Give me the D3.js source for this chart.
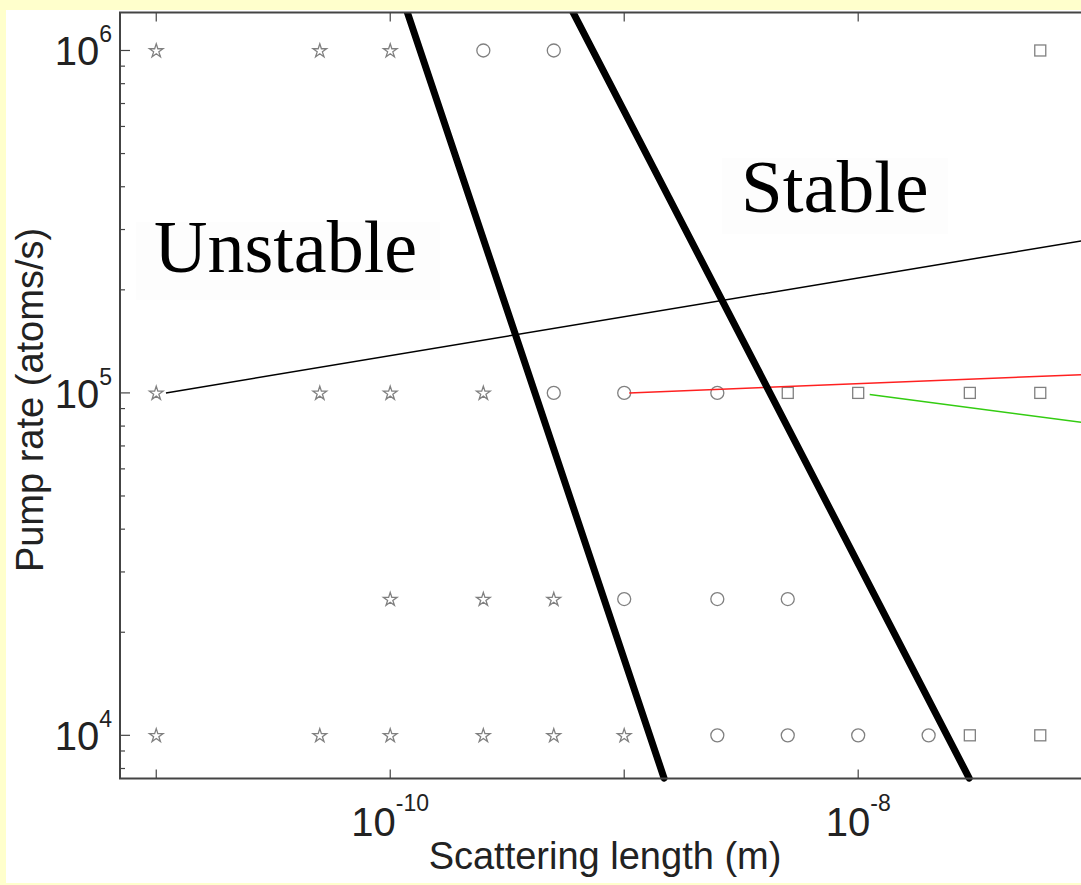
<!DOCTYPE html>
<html lang="en">
<head>
  <meta charset="UTF-8">
  <title>pump rate vs scattering length</title>
  <script src="https://d3js.org/d3.v7.min.js" charset="utf-8"></script>
  <style>
    body { margin: 0; background: #ffffcc; }
    svg { display: block; }
  </style>
</head>
<body>
</body>
<script>
  // marker positions [scattering length (m), pump rate (atoms/s)]
  var starPts = [[1e-11, 1e6], [5e-11, 1e6], [1e-10, 1e6],
    [1e-11, 1e5], [5e-11, 1e5], [1e-10, 1e5], [2.5e-10, 1e5],
    [1e-10, 2.5e4], [2.5e-10, 2.5e4], [5e-10, 2.5e4],
    [1e-11, 1e4], [5e-11, 1e4], [1e-10, 1e4], [2.5e-10, 1e4], [5e-10, 1e4], [1e-9, 1e4]]
  var circlePts = [[2.5e-10, 1e6], [5e-10, 1e6],
    [5e-10, 1e5], [1e-9, 1e5], [2.5e-9, 1e5],
    [1e-9, 2.5e4], [2.5e-9, 2.5e4], [5e-9, 2.5e4],
    [2.5e-9, 1e4], [5e-9, 1e4], [1e-8, 1e4], [2e-8, 1e4]]
  var squarePts = [[6e-8, 1e6],
    [5e-9, 1e5], [1e-8, 1e5], [3e-8, 1e5], [6e-8, 1e5],
    [3e-8, 1e4], [6e-8, 1e4]]

  // boundary lines (thick) and trajectories (thin)
  var boundary1 = [[1.1e-10, 1.5e6], [1.48e-9, 7.5e3]]
  var boundary2 = [[5.4e-10, 1.5e6], [2.98e-8, 7.5e3]]
  var blackLine = [[1.1e-11, 1e5], [9e-8, 2.78e5]]
  var redLine = [[1.05e-9, 1.0e5], [9e-8, 1.13e5]]
  var greenLine = [[1.12e-8, 0.99e5], [9e-8, 8.2e4]]

  var xTicks = [1e-11, 1e-10, 1e-9, 1e-8, 1e-7]
  var xLabelExps = [-10, -8]
  var yLabelExps = [4, 5, 6]

  var W = 1081, H = 885
  var pL = 120, pT = 12.5, pB = 778.5, pR = 1100

  var svg = d3.select('body').append('svg').attr('width', W).attr('height', H)

  svg.append('rect').attr('x', 6).attr('y', 10).attr('width', W).attr('height', 873).attr('fill', '#fff')

  var x = d3.scaleLog().domain([7.0e-12, 1.08e-7]).range([pL, pR])
  var y = d3.scaleLog().domain([7.48e3, 1.291e6]).range([pB, pT])

  svg.append('clipPath').attr('id', 'plotclip').append('rect')
    .attr('x', pL).attr('y', pT).attr('width', pR - pL).attr('height', pB - pT + 4)

  // faint text boxes
  svg.append('rect').attr('x', 136).attr('y', 222).attr('width', 304).attr('height', 78).attr('fill', '#fdfdfd')
  svg.append('rect').attr('x', 722).attr('y', 158).attr('width', 226).attr('height', 76).attr('fill', '#fdfdfd')

  // ticks
  var tickCol = '#444'
  var g = svg.append('g')
  xTicks.filter(function(d) { return x(d) < W }).forEach(function(d) {
    g.append('line').attr('x1', x(d)).attr('x2', x(d)).attr('y1', pB).attr('y2', pB - 9)
      .attr('stroke', tickCol).attr('stroke-width', 1.2)
    g.append('line').attr('x1', x(d)).attr('x2', x(d)).attr('y1', pT).attr('y2', pT + 9)
      .attr('stroke', tickCol).attr('stroke-width', 1.2)
  })
  var yTicks = []
  for (var e = 3; e <= 6; e++) {
    for (var m = 1; m <= 9; m++) yTicks.push(m * Math.pow(10, e))
  }
  yTicks.filter(function(d) { return y(d) >= pT && y(d) <= pB }).forEach(function(d) {
    var major = Math.abs(Math.log10(d) - Math.round(Math.log10(d))) < 1e-9
    g.append('line').attr('x1', pL).attr('x2', pL + (major ? 10 : 5)).attr('y1', y(d)).attr('y2', y(d))
      .attr('stroke', tickCol).attr('stroke-width', 1.2)
  })

  // markers
  var mcol = '#808080'
  var mk = svg.append('g').attr('fill', 'none').attr('stroke', mcol).attr('stroke-width', 1.3)
  mk.selectAll('.star').data(starPts).enter().append('path').attr('class', 'star')
    .attr('d', d3.symbol().type(d3.symbolStar).size(58))
    .attr('transform', function(d) { return 'translate(' + x(d[0]) + ',' + (y(d[1]) + 0.5) + ')' })
  mk.selectAll('.circ').data(circlePts).enter().append('circle').attr('class', 'circ')
    .attr('cx', function(d) { return x(d[0]) }).attr('cy', function(d) { return y(d[1]) }).attr('r', 6.5)
  mk.selectAll('.sq').data(squarePts).enter().append('rect').attr('class', 'sq')
    .attr('x', function(d) { return x(d[0]) - 5.5 }).attr('y', function(d) { return y(d[1]) - 5.5 })
    .attr('width', 11).attr('height', 11)

  var line = d3.line().x(function(d) { return x(d[0]) }).y(function(d) { return y(d[1]) })
  var lines = svg.append('g').attr('clip-path', 'url(#plotclip)').attr('fill', 'none')
  lines.append('path').attr('d', line(blackLine)).attr('stroke', '#000').attr('stroke-width', 1.5)
  lines.append('path').attr('d', line(redLine)).attr('stroke', '#ff2020').attr('stroke-width', 1.5)
  lines.append('path').attr('d', line(greenLine)).attr('stroke', '#33cc11').attr('stroke-width', 1.5)
  lines.selectAll('.bnd').data([boundary1, boundary2]).enter().append('path').attr('class', 'bnd')
    .attr('d', line).attr('stroke', '#000').attr('stroke-width', 7).attr('stroke-linecap', 'round')

  // frame (right side is off the canvas)
  svg.append('path').attr('d', 'M' + pR + ',' + pT + 'H' + pL + 'V' + pB + 'H' + pR)
    .attr('fill', 'none').attr('stroke', '#444').attr('stroke-width', 2)

  // tick labels
  var font = '"Liberation Sans", Arial, Helvetica, sans-serif'
  xLabelExps.forEach(function(ex) {
    var t = svg.append('text').attr('x', x(Math.pow(10, ex))).attr('y', 836).attr('text-anchor', 'middle')
      .attr('font-family', font).attr('fill', '#222')
    t.append('tspan').attr('font-size', 40).text('10')
    t.append('tspan').attr('font-size', 23).attr('dy', -25).text(ex)
  })
  yLabelExps.forEach(function(ex) {
    var t = svg.append('text').attr('x', 112).attr('y', y(Math.pow(10, ex)) + 15).attr('text-anchor', 'end')
      .attr('font-family', font).attr('fill', '#222')
    t.append('tspan').attr('font-size', 40).text('10')
    t.append('tspan').attr('font-size', 23).attr('dy', -23).text(ex)
  })

  // axis titles
  svg.append('text').attr('x', 605).attr('y', 869).attr('text-anchor', 'middle')
    .attr('font-family', font).attr('font-size', 38).attr('fill', '#222').text('Scattering length (m)')
  svg.append('text').attr('transform', 'translate(43,400) rotate(-90)').attr('text-anchor', 'middle')
    .attr('font-family', font).attr('font-size', 38).attr('fill', '#222').text('Pump rate (atoms/s)')

  // region labels
  var serif = '"Liberation Serif", "Times New Roman", serif'
  svg.append('text').attr('x', 154).attr('y', 272).attr('font-family', serif).attr('font-size', 74)
    .attr('fill', '#000').text('Unstable')
  svg.append('text').attr('x', 741).attr('y', 212).attr('font-family', serif).attr('font-size', 75)
    .attr('fill', '#000').text('Stable')
</script>
</html>
